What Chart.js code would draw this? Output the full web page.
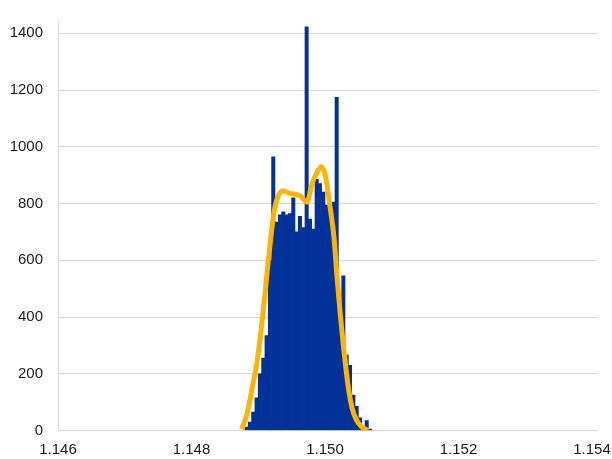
<!DOCTYPE html>
<html>
<head>
<meta charset="utf-8">
<script src="https://cdn.jsdelivr.net/npm/chart.js@4.4.1/dist/chart.umd.min.js"></script>
<style>
  html, body { margin: 0; padding: 0; background: #ffffff; }
  #wrap { width: 612px; height: 459px; }
</style>
</head>
<body>
<div id="wrap"><canvas id="c" width="612" height="459"></canvas></div>
<script>
// Histogram bin centres (bin width 0.00005)
const binCenters = [
  1.148825, 1.148875, 1.148925, 1.148975, 1.149025, 1.149075, 1.149125, 1.149175,
  1.149225, 1.149275, 1.149325, 1.149375, 1.149425, 1.149475, 1.149525, 1.149575,
  1.149625, 1.149675, 1.149725, 1.149775, 1.149825, 1.149875, 1.149925, 1.149975,
  1.150025, 1.150075, 1.150125, 1.150175, 1.150225, 1.150275, 1.150325, 1.150375,
  1.150425, 1.150475, 1.150525, 1.150575, 1.150625, 1.150675
];
// Frequencies per bin
const binCounts = [
  12, 30, 65, 115, 200, 255, 335, 600,
  965, 735, 760, 771, 760, 765, 820, 700,
  755, 715, 1423, 745, 710, 885, 870, 840,
  795, 780, 805, 1174, 400, 545, 266, 230,
  125, 85, 45, 15, 35, 5
];
// Smoothed density curve (scaled to frequencies)
const curveX = [
  1.148749, 1.148801, 1.148861, 1.148921, 1.148981, 1.149041, 1.149101, 1.149146,
  1.149191, 1.149236, 1.149296, 1.149371, 1.149476, 1.149625, 1.149730, 1.149805,
  1.149880, 1.149940, 1.150000, 1.150075, 1.150135, 1.150180, 1.150225, 1.150270,
  1.150315, 1.150360, 1.150405, 1.150465, 1.150540, 1.150645
];
const curveY = [
  5, 35, 90, 165, 240, 350, 480, 590,
  685, 770, 825, 845, 836, 828, 805, 870,
  910, 930, 905, 790, 680, 540, 420, 310,
  215, 135, 80, 40, 15, 0
];
// Axis ticks
const xTicks = [1.146, 1.148, 1.150, 1.152, 1.154];
const yTicks = [0, 200, 400, 600, 800, 1000, 1200, 1400];

const barData = binCenters.map((x, i) => ({ x: x, y: binCounts[i] }));
const lineData = curveX.map((x, i) => ({ x: x, y: curveY[i] }));

const FONT = { family: "'Liberation Sans', Arial, sans-serif", size: 15 };
const GRID = '#d9d9d9';

new Chart(document.getElementById('c'), {
  data: {
    datasets: [
      {
        type: 'line',
        data: lineData,
        borderColor: '#FFB400',
        borderWidth: 5,
        pointRadius: 0,
        fill: false,
        cubicInterpolationMode: 'monotone',
        order: 0
      },
      {
        type: 'bar',
        data: barData,
        backgroundColor: '#003299',
        borderWidth: 0,
        barPercentage: 1.0,
        categoryPercentage: 1.0,
        order: 1
      }
    ]
  },
  options: {
    responsive: false,
    animation: false,
    devicePixelRatio: 1,
    layout: { padding: { top: 20, right: 15, left: 0, bottom: 0 } },
    plugins: { legend: { display: false }, tooltip: { enabled: false } },
    scales: {
      x: {
        type: 'linear',
        offset: false,
        min: xTicks[0],
        max: 1.154075,
        grid: { display: true, color: 'transparent', drawTicks: true, tickLength: 10, tickColor: 'transparent' },
        border: { display: true, color: GRID, width: 1 },
        afterBuildTicks: (axis) => { axis.ticks = xTicks.map(v => ({ value: v })); },
        ticks: {
          font: FONT,
          color: '#1a1a1a',
          padding: 0,
          maxRotation: 0,
          autoSkip: false,
          callback: (v) => Number(v).toFixed(3)
        },
        afterFit: (s) => { s.height = 28.5; }
      },
      y: {
        type: 'linear',
        min: 0,
        max: 1447,
        grid: { color: GRID, lineWidth: 1, drawTicks: true, tickLength: 15, tickColor: 'transparent' },
        border: { display: true, color: GRID, width: 1 },
        afterBuildTicks: (axis) => { axis.ticks = yTicks.map(v => ({ value: v })); },
        ticks: {
          font: FONT,
          color: '#1a1a1a',
          padding: 0,
          autoSkip: false,
          callback: (v) => String(v)
        },
        afterFit: (s) => { s.width = 58; }
      }
    }
  }
});
</script>
</body>
</html>
